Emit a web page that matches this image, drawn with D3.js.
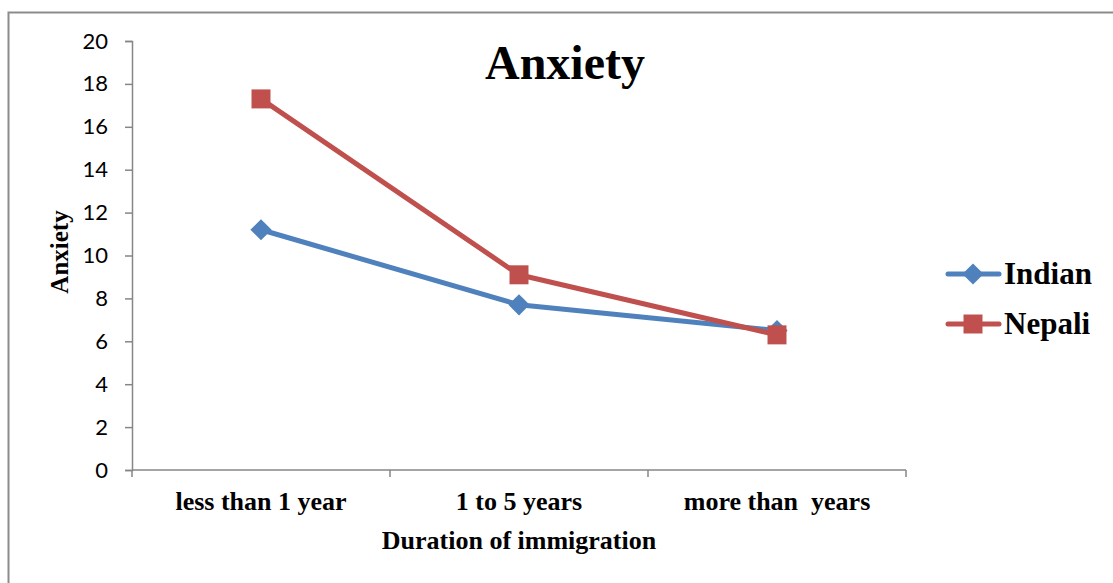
<!DOCTYPE html>
<html>
<head>
<meta charset="utf-8">
<script src="https://cdn.jsdelivr.net/npm/d3@7"></script>
<style>
  html, body { margin: 0; padding: 0; background: #fff; }
  svg { display: block; }
</style>
</head>
<body>
<svg id="chart" width="1113" height="583"></svg>
<script>
// Mean anxiety score by duration of immigration
const categories = ["less than 1 year", "1 to 5 years", "more than  years"];
const seriesNames = ["Indian", "Nepali"];
const indianValues = [11.2, 7.7, 6.5];
const nepaliValues = [17.3, 9.1, 6.3];
const yTicks = [0, 2, 4, 6, 8, 10, 12, 14, 16, 18, 20];

const colors = { Indian: "#4F81BD", Nepali: "#C0504D" };
const axisColor = "#868686";
const serif = "'Liberation Serif', 'Times New Roman', serif";
const sans = "Lato, 'Open Sans', sans-serif";

const svg = d3.select("#chart");

// outer frame
svg.append("rect")
  .attr("x", 8.5).attr("y", 12.5)
  .attr("width", 1130).attr("height", 600)
  .attr("fill", "none").attr("stroke", "#8c8c8c").attr("stroke-width", 2);

const plot = { left: 132, right: 906, top: 41, bottom: 470 };

const band = d3.scaleBand().domain(categories).range([plot.left, plot.right]).padding(0);
const x = d3.scalePoint().domain(categories).range([plot.left, plot.right]).padding(0.5);
const y = d3.scaleLinear().domain([0, 20]).range([plot.bottom, plot.top]);

// y axis
const yAxis = svg.append("g")
  .attr("transform", `translate(${plot.left},0)`)
  .call(d3.axisLeft(y).tickValues(yTicks).tickSize(7).tickPadding(17).tickFormat(d3.format("d")));
yAxis.select(".domain").attr("stroke", axisColor).attr("stroke-width", 1.5);
yAxis.selectAll(".tick line").attr("stroke", axisColor).attr("stroke-width", 1.5);
yAxis.selectAll(".tick text")
  .attr("font-family", sans).attr("font-size", 22).attr("fill", "#000");

// x axis: baseline with ticks at category boundaries
const xAxis = svg.append("g");
xAxis.append("line")
  .attr("x1", plot.left).attr("x2", plot.right)
  .attr("y1", plot.bottom).attr("y2", plot.bottom)
  .attr("stroke", axisColor).attr("stroke-width", 1.5);
const boundaries = categories.map(c => band(c)).concat([band(categories[categories.length - 1]) + band.bandwidth()]);
xAxis.selectAll(".btick").data(boundaries).join("line")
  .attr("x1", d => d).attr("x2", d => d)
  .attr("y1", plot.bottom).attr("y2", plot.bottom + 7)
  .attr("stroke", axisColor).attr("stroke-width", 1.5);
xAxis.selectAll(".clabel").data(categories).join("text")
  .attr("x", d => x(d)).attr("y", 510)
  .attr("text-anchor", "middle")
  .attr("font-family", serif).attr("font-weight", "bold").attr("font-size", 26)
  .style("white-space", "pre")
  .text(d => d);

// axis titles
svg.append("text")
  .attr("x", 519).attr("y", 549)
  .attr("text-anchor", "middle")
  .attr("font-family", serif).attr("font-weight", "bold").attr("font-size", 26)
  .text("Duration of immigration");

svg.append("text")
  .attr("transform", "translate(68,252) rotate(-90)")
  .attr("text-anchor", "middle")
  .attr("font-family", serif).attr("font-weight", "bold").attr("font-size", 25)
  .text("Anxiety");

// chart title
svg.append("text")
  .attr("x", 565).attr("y", 79)
  .attr("text-anchor", "middle")
  .attr("font-family", serif).attr("font-weight", "bold").attr("font-size", 48)
  .text("Anxiety");

// series
const series = [
  { name: "Indian", values: indianValues, shape: "diamond" },
  { name: "Nepali", values: nepaliValues, shape: "square" }
];

const line = d3.line().x(d => x(d.cat)).y(d => y(d.v));
const squareSym = d3.symbol().type(d3.symbolSquare).size(19 * 19);
const diamondSym = d3.symbol().type(d3.symbolSquare).size(15 * 15);

series.forEach(s => {
  const pts = categories.map((c, i) => ({ cat: c, v: s.values[i] }));
  svg.append("path")
    .datum(pts)
    .attr("d", line)
    .attr("fill", "none")
    .attr("stroke", colors[s.name])
    .attr("stroke-width", 5)
    .attr("stroke-linejoin", "round");
  svg.selectAll(".m-" + s.name).data(pts).join("path")
    .attr("d", s.shape === "square" ? squareSym() : diamondSym())
    .attr("transform", d => `translate(${x(d.cat)},${y(d.v)})` + (s.shape === "diamond" ? " rotate(45)" : ""))
    .attr("fill", colors[s.name]);
});

// legend
const legend = svg.append("g");
series.forEach((s, i) => {
  const cy = 274 + i * 50;
  legend.append("line")
    .attr("x1", 948).attr("x2", 999).attr("y1", cy).attr("y2", cy)
    .attr("stroke", colors[s.name]).attr("stroke-width", 5).attr("stroke-linecap", "round");
  legend.append("path")
    .attr("d", s.shape === "square" ? squareSym() : diamondSym())
    .attr("transform", `translate(973,${cy})` + (s.shape === "diamond" ? " rotate(45)" : ""))
    .attr("fill", colors[s.name]);
  legend.append("text")
    .attr("x", 1004).attr("y", cy + 10)
    .attr("font-family", serif).attr("font-weight", "bold").attr("font-size", 31)
    .text(s.name);
});
</script>
</body>
</html>
